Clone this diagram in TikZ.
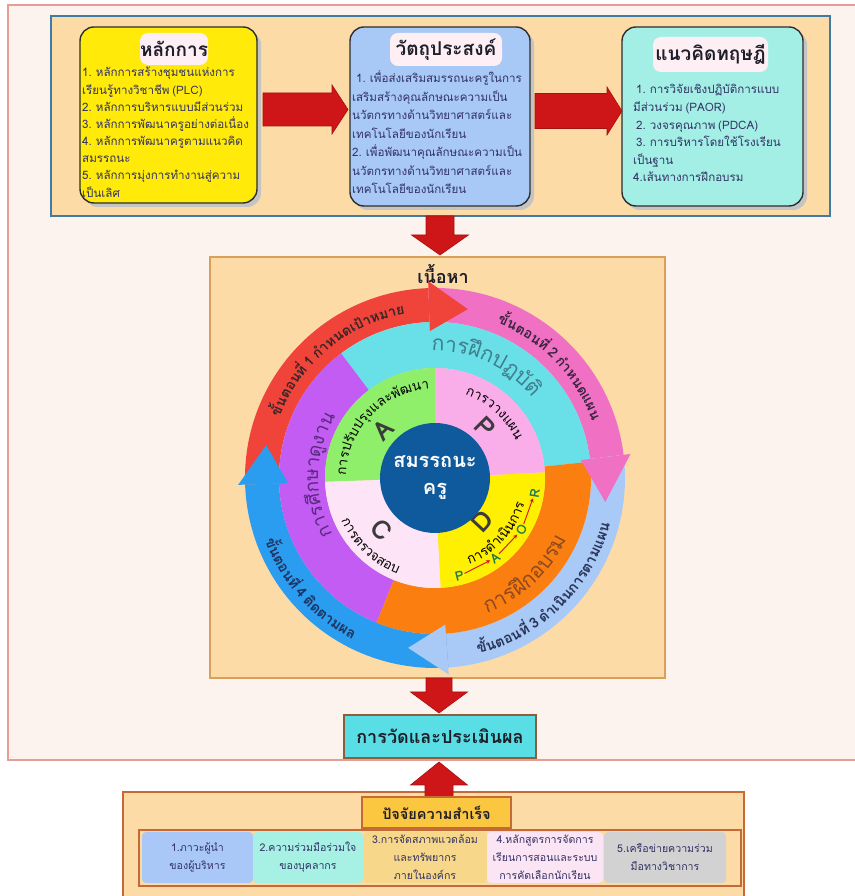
\documentclass[tikz,border=0pt]{standalone}
\usepackage{fontspec}
\setmainfont{Loma}[Script=Thai, WordSpace=0.7]
\usetikzlibrary{decorations.text,arrows.meta,calc}

\definecolor{framefill}{HTML}{FCF3EF}
\definecolor{framedraw}{HTML}{E79C94}
\definecolor{orfill}{HTML}{FDDBA7}
\definecolor{topdraw}{HTML}{3F7BA4}
\definecolor{contdraw}{HTML}{D9A05B}
\definecolor{botdraw}{HTML}{C46A36}
\definecolor{cyellow}{HTML}{FFEA0A}
\definecolor{clblue}{HTML}{A8C8F6}
\definecolor{caqua}{HTML}{A3EFE5}
\definecolor{pillc}{HTML}{FDEFF3}
\definecolor{boxdark}{HTML}{2E2E2E}
\definecolor{shadowc}{HTML}{C4C4C4}
\definecolor{arrred}{HTML}{CE1517}
\definecolor{arrdark}{HTML}{A51212}
\definecolor{txtnavy}{HTML}{333366}
\definecolor{titlec}{HTML}{1E1E2A}
\definecolor{measc}{HTML}{58DEE4}
\definecolor{measdraw}{HTML}{8B5E3C}
\definecolor{goldc}{HTML}{FBC741}
\definecolor{cellA}{HTML}{A9C7F7}
\definecolor{cellB}{HTML}{A6F0E4}
\definecolor{cellC}{HTML}{F7D88A}
\definecolor{cellD}{HTML}{FBE4F4}
\definecolor{cellE}{HTML}{D2D2D2}
\definecolor{ringred}{HTML}{F0443A}
\definecolor{ringpink}{HTML}{F071C3}
\definecolor{ringlblue}{HTML}{A9C9F6}
\definecolor{ringblue}{HTML}{2B9DF0}
\definecolor{midcyan}{HTML}{69DFE7}
\definecolor{midorange}{HTML}{FB7E10}
\definecolor{midpurple}{HTML}{C25CF3}
\definecolor{pieA}{HTML}{8FEF6A}
\definecolor{pieP}{HTML}{F9AEEA}
\definecolor{pieD}{HTML}{FFEF00}
\definecolor{pieC}{HTML}{FDE4F6}
\definecolor{coreblue}{HTML}{0F5A9C}
\definecolor{txtcyan}{HTML}{3F7E8C}
\definecolor{txtorange}{HTML}{8E4A1E}
\definecolor{txtpurple}{HTML}{5A2A80}
\definecolor{txtred}{HTML}{3A2626}
\definecolor{txtpink}{HTML}{3A2440}
\definecolor{txtlblue}{HTML}{283458}
\definecolor{txtblue}{HTML}{1D3460}
\definecolor{paorgreen}{HTML}{1E7B4C}
\definecolor{bigletter}{HTML}{3B3B3B}

\tikzset{
  body/.style={font=\fontsize{11.6}{14}\selectfont, text=txtnavy, inner sep=0pt},
  rbox/.style={draw=boxdark, line width=1.4pt, rounded corners=14pt, inner sep=0pt},
  pill/.style={fill=pillc, rounded corners=8pt, font=\fontsize{19}{22}\selectfont\bfseries, text=titlec, inner sep=0pt},
  cell/.style={rounded corners=4pt, inner sep=0pt, align=center, font=\fontsize{10.6}{18}\selectfont, text=txtnavy},
  bigl/.style={font=\fontsize{26}{26}\selectfont\bfseries, text=bigletter, inner sep=0pt},
  paor/.style={font=\fontsize{13}{13}\selectfont\bfseries, text=paorgreen, inner sep=0.5pt},
  paorarrow/.style={draw=arrred, line width=0.9pt, -{Stealth[length=4pt,width=4pt]}, shorten <=0.5pt, shorten >=0.5pt},
  blockarrow/.style={fill=arrred, draw=arrdark, line width=0.6pt}
}

% radius, start, end, font, colour, text
\newcommand\arctext[6]{%
  \path[decorate, decoration={text along path, text align=center,
    text={|#4\color{#5}|#6}}] (#2:#1) arc[start angle=#2, end angle=#3, radius=#1];}

% name prefix, x, first baseline y, step, list of lines
\newcommand\textlines[5]{%
  \foreach \t [count=\i from 0] in {#5} {%
    \node[body, anchor=base west] (#1\i) at (#2, #3-\i*#4) {\t};}}

% horizontal block arrow: x start, x head base, x tip, y centre, shaft half, head half
\newcommand\harrow[6]{%
  \path[blockarrow] (#1,#4-#5) -- (#2,#4-#5) -- (#2,#4-#6) -- (#3,#4) -- (#2,#4+#6) -- (#2,#4+#5) -- (#1,#4+#5) -- cycle;}
% vertical block arrow: x centre, y start, y head base, y tip, shaft half, head half
\newcommand\varrow[6]{%
  \path[blockarrow] (#1-#5,#2) -- (#1-#5,#3) -- (#1-#6,#3) -- (#1,#4) -- (#1+#6,#3) -- (#1+#5,#3) -- (#1+#5,#2) -- cycle;}

% ring arrow: colour, tail angle, head base angle, tip angle
\newcommand\ringband[3]{%
  \fill[#1] (#2:156) arc[start angle=#2, end angle=#3, radius=156] -- (#3:190) arc[start angle=#3, end angle=#2, radius=190] -- cycle;}
\newcommand\ringhead[3]{%
  \fill[#1] (#2:147) -- (#3:172) -- (#2:197) -- cycle;}

\begin{document}
\begin{tikzpicture}[x=1pt,y=1pt]
\useasboundingbox (0,0) rectangle (854,896);
\fill[white] (0,0) rectangle (854,896);

% outer frame
\draw[fill=framefill, draw=framedraw, line width=1.2pt] (8,136) rectangle (880,891);

% top region
\draw[fill=orfill, draw=topdraw, line width=1.4pt] (51,680) rectangle (830,880);

% shadows
\fill[shadowc, rounded corners=14pt] (84,689) rectangle (261,865);
\fill[shadowc, rounded corners=14pt] (354,686) rectangle (534,865);
\fill[shadowc, rounded corners=14pt] (626,686) rectangle (807,865);

\node[rbox, fill=cyellow, minimum width=177pt, minimum height=176pt] (hl) at (168.5,781) {};
\node[rbox, fill=clblue, minimum width=180pt, minimum height=179pt] (ob) at (440,779.5) {};
\node[rbox, fill=caqua, minimum width=181pt, minimum height=179pt] (th) at (712.5,779.5) {};

\node[pill, minimum width=68pt, minimum height=32pt] (hlt) at (174,847) {หลักการ};
\node[pill, minimum width=112pt, minimum height=33pt] (obt) at (446,846.5) {วัตถุประสงค์};
\node[pill, minimum width=115pt, minimum height=35pt] (tht) at (710.5,841.5) {แนวคิดทฤษฎี};

\textlines{hlx}{82}{819}{17.15}{1. หลักการสร้างชุมชนแห่งการ, เรียนรู้ทางวิชาชีพ (PLC), 2. หลักการบริหารแบบมีส่วนร่วม, 3. หลักการพัฒนาครูอย่างต่อเนื่อง, 4. หลักการพัฒนาครูตามแนวคิด, สมรรถนะ, 5. หลักการมุ่งการทำงานสู่ความ, เป็นเลิศ}
\textlines{obx}{352}{813}{18.5}{\hspace{4pt}1. เพื่อส่งเสริมสมรรถนะครูในการ, เสริมสร้างคุณลักษณะความเป็น, นวัตกรทางด้านวิทยาศาสตร์และ, เทคโนโลยีของนักเรียน, 2. เพื่อพัฒนาคุณลักษณะความเป็น, นวัตกรทางด้านวิทยาศาสตร์และ, เทคโนโลยีของนักเรียน}
\textlines{thx}{633}{802}{17.6}{\hspace{3pt}1. การวิจัยเชิงปฏิบัติการแบบ, มีส่วนร่วม (PAOR), \hspace{3pt}2. วงจรคุณภาพ (PDCA), \hspace{3pt}3. การบริหารโดยใช้โรงเรียน, เป็นฐาน, 4.เส้นทางการฝึกอบรม}

\harrow{263}{332}{348}{786.5}{16.5}{24.5}
\harrow{535}{607}{622}{785}{17.5}{24}

% content box
\node[draw=contdraw, fill=orfill, line width=1.4pt, minimum width=455pt, minimum height=421pt, inner sep=0pt] (cont) at (437.5,428.5) {};
\node[font=\fontsize{18}{20}\selectfont\bfseries, text=titlec, inner sep=0pt] (conttitle) at (443,622) {เนื้อหา};

\varrow{440}{680}{661}{641}{14}{28.5}

% ===== circle =====
\begin{scope}[shift={(435,418)}]
  % outer ring arrows (bands)
  \ringband{ringred}{182}{92}
  \ringband{ringpink}{92}{7}
  \ringband{ringlblue}{7}{-86}
  \ringband{ringblue}{274}{182}
  % middle ring
  \fill[midcyan] (6:156) arc[start angle=6, end angle=127, radius=156] -- (127:110) arc[start angle=127, end angle=6, radius=110] -- cycle;
  \fill[midpurple] (127:156) arc[start angle=127, end angle=248, radius=156] -- (248:110) arc[start angle=248, end angle=127, radius=110] -- cycle;
  \fill[midorange] (248:156) arc[start angle=248, end angle=366, radius=156] -- (366:110) arc[start angle=366, end angle=248, radius=110] -- cycle;
  % heads
  \ringhead{ringred}{92}{79}
  \ringhead{ringpink}{7}{-8}
  \ringhead{ringlblue}{-86}{-99}
  \ringhead{ringblue}{182}{169}
  % pie
  \fill[pieA] (0,0) -- (90:110) arc[start angle=90, end angle=182, radius=110] -- cycle;
  \fill[pieC] (0,0) -- (182:110) arc[start angle=182, end angle=273, radius=110] -- cycle;
  \fill[pieD] (0,0) -- (273:110) arc[start angle=273, end angle=363, radius=110] -- cycle;
  \fill[pieP] (0,0) -- (3:110) arc[start angle=3, end angle=90, radius=110] -- cycle;

  % ring texts
  \arctext{167}{180}{79}{\fontsize{14}{14}\selectfont\bfseries}{txtred}{{ขั้}นตอน{ที่} 1 {กำ}หนดเ{ป้}าหมาย}
  \arctext{167}{94}{-6}{\fontsize{14}{14}\selectfont\bfseries}{txtpink}{{ขั้}นตอน{ที่} 2 {กำ}หนดแผน}
  \arctext{181}{-100}{9}{\fontsize{14.5}{14}\selectfont\bfseries}{txtlblue}{{ขั้}นตอน{ที่} 3 {ดำ}เ{นิ}นการตามแผน}
  \arctext{181}{170}{273}{\fontsize{14.5}{14}\selectfont\bfseries}{txtblue}{{ขั้}นตอน{ที่} 4 {ติ}ดตามผล}

  \arctext{127}{120}{11}{\fontsize{21}{21}\selectfont}{txtcyan}{การ{ฝึ}กปฏ{บั}{ติ}}
  \arctext{145}{-100}{6}{\fontsize{21}{21}\selectfont}{txtorange}{การ{ฝึ}กอบรม}
  \arctext{117}{230}{127}{\fontsize{19}{19}\selectfont}{txtpurple}{การ{ศึ}กษา{ดู}งาน}

  \arctext{89}{180}{92}{\fontsize{13.5}{14}\selectfont}{black}{การป{รั}บป{รุ}งและ{พั}ฒนา}
  \arctext{89}{88}{7}{\fontsize{13.5}{14}\selectfont}{black}{การวางแผน}
  \arctext{93}{-85}{1}{\fontsize{13.5}{14}\selectfont}{black}{การ{ดำ}เ{นิ}นการ}
  \arctext{103}{185}{268}{\fontsize{13.5}{14}\selectfont}{black}{การตรวจสอบ}

  % big letters
  \node[bigl, rotate=45] (lA) at (137:71) {A};
  \node[bigl, rotate=-45] (lP) at (45.6:71) {P};
  \node[bigl, rotate=47] (lD) at (-43:64) {D};
  \node[bigl, rotate=-46] (lC) at (224:74) {C};

  % PAOR
  \node[paor, rotate=14] (pP) at (-76:101) {P};
  \node[paor, rotate=37] (pA) at (-53:100) {A};
  \node[paor, rotate=59] (pO) at (-31:101) {O};
  \node[paor, rotate=81] (pR) at (-8.5:101) {R};
  \draw[paorarrow] (pP) -- (pA);
  \draw[paorarrow] (pA) -- (pO);
  \draw[paorarrow] (pO) -- (pR);

  % core
  \node[circle, fill=coreblue, minimum size=110pt, inner sep=0pt, align=center, text=white,
        font=\fontsize{20}{27}\selectfont\bfseries] (core) at (0,0) {สมรรถนะ\\ครู};
\end{scope}

% measurement
\varrow{439}{218}{204}{183}{13}{28.5}
\node[draw=measdraw, fill=measc, line width=1.4pt, minimum width=192pt, minimum height=43pt, inner sep=0pt,
      font=\fontsize{18}{20}\selectfont\bfseries, text=titlec] (meas) at (440,159.5) {การวัดและประเมินผล};

% bottom region
\draw[fill=orfill, draw=botdraw, line width=1.4pt] (123,-4) rectangle (744,104);
\varrow{439}{99}{111}{134}{14}{28.5}
\node[draw=botdraw, fill=goldc, line width=1.4pt, minimum width=149pt, minimum height=31pt, inner sep=0pt,
      font=\fontsize{14.5}{16}\selectfont\bfseries, text=titlec] (gold) at (436.5,83.5) {ปัจจัยความสำเร็จ};
\draw[draw=botdraw, line width=1.4pt] (139,10) rectangle (741,66);
\node[cell, fill=cellA, minimum width=111pt, minimum height=51pt] (c1) at (197.5,38.5) {1.ภาวะผู้นำ\\ของผู้บริหาร};
\node[cell, fill=cellB, minimum width=110pt, minimum height=51pt] (c2) at (308,38.5) {2.ความร่วมมือร่วมใจ\\ของบุคลากร};
\node[cell, fill=cellC, minimum width=124pt, minimum height=51pt] (c3) at (425,38.5) {3.การจัดสภาพแวดล้อม\\และทรัพยากร\\ภายในองค์กร};
\node[cell, fill=cellD, minimum width=116pt, minimum height=51pt] (c4) at (545,38.5) {4.หลักสูตรการจัดการ\\เรียนการสอนและระบบ\\การคัดเลือกนักเรียน};
\node[cell, fill=cellE, minimum width=122pt, minimum height=51pt] (c5) at (665,38.5) {5.เครือข่ายความร่วม\\มือทางวิชาการ};
\end{tikzpicture}
\end{document}
